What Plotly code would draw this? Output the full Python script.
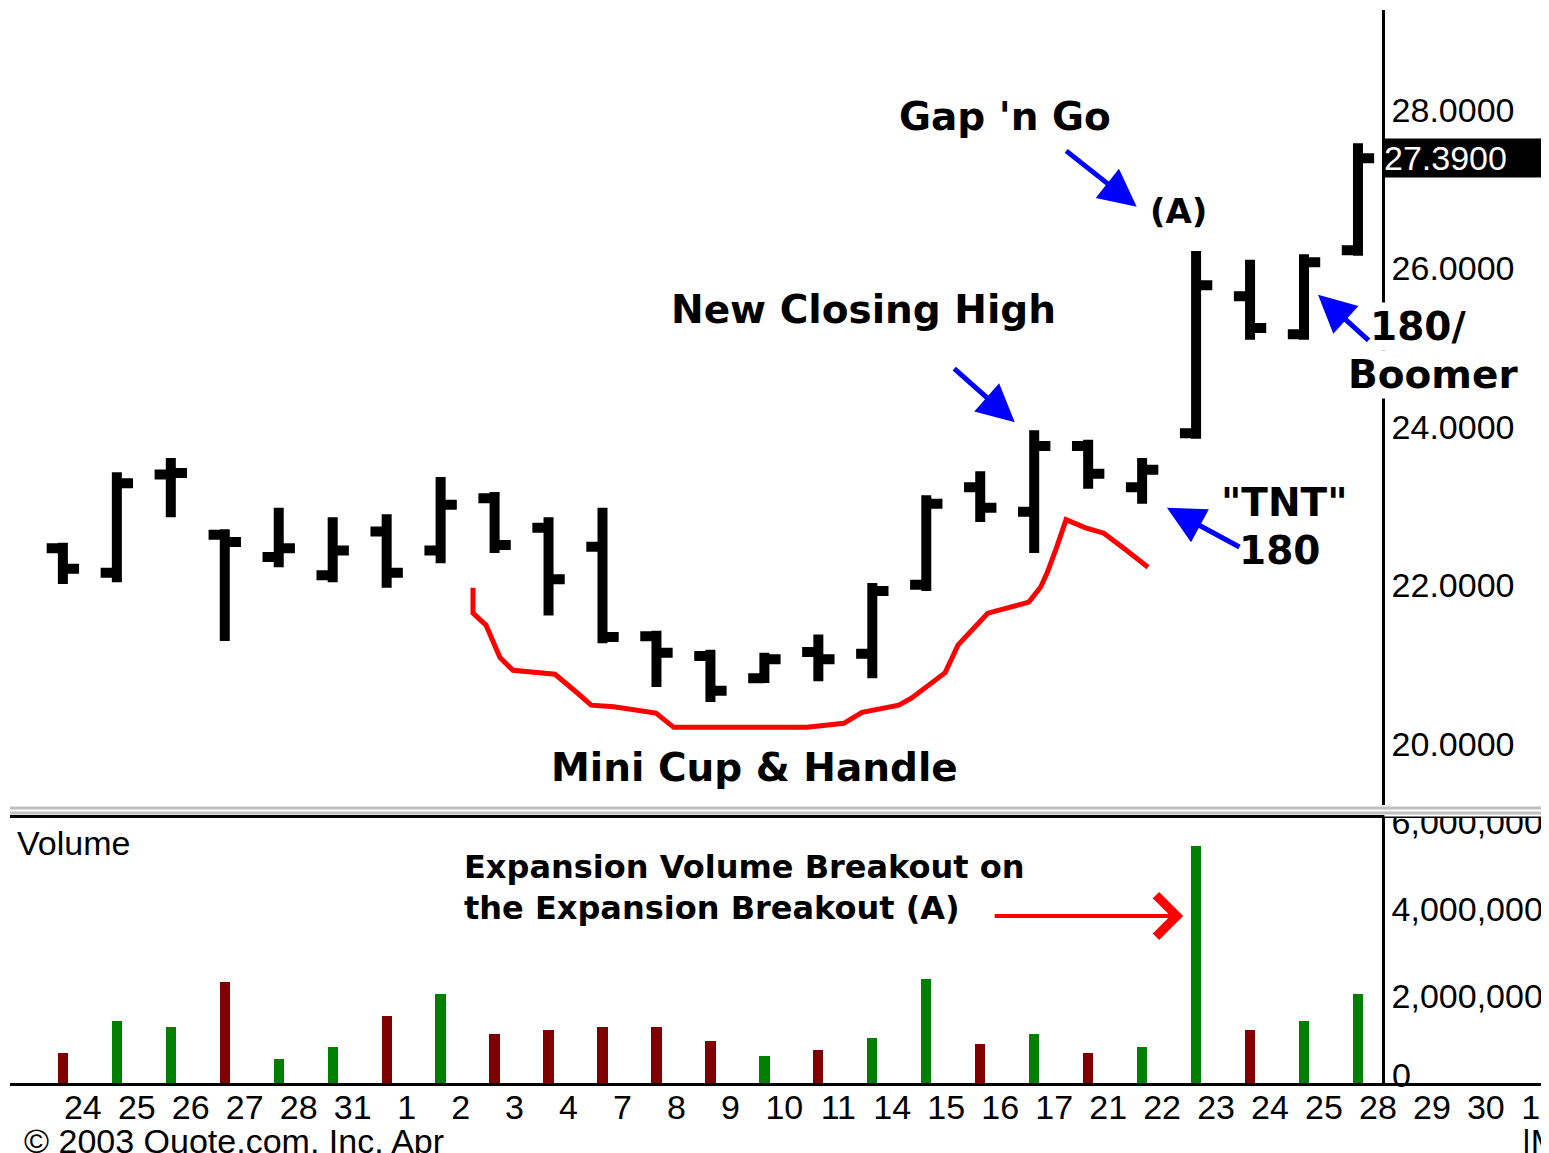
import plotly.graph_objects as go

# ---------------- data ----------------
dates = ["24", "25", "26", "27", "28", "31", "1", "2", "3", "4", "7", "8", "9",
         "10", "11", "14", "15", "16", "17", "21", "22", "23", "24", "25", "28"]
axis_labels = dates + ["29", "30", "1"]

open_ = [22.47, 22.16, 23.40, 22.64, 22.36, 22.13, 22.68, 22.44, 23.10, 22.73, 22.49, 21.36, 21.11,
         20.83, 21.16, 21.14, 22.01, 23.24, 22.93, 23.76, 23.24, 23.92, 25.65, 25.17, 26.23]
high = [22.54, 23.43, 23.61, 22.71, 22.98, 22.86, 22.90, 23.37, 23.18, 22.86, 22.98, 21.43, 21.19,
        21.15, 21.38, 22.03, 23.14, 23.44, 23.96, 23.84, 23.61, 26.22, 26.11, 26.18, 27.58]
low = [22.02, 22.04, 22.86, 21.30, 22.23, 22.04, 21.97, 22.28, 22.41, 21.62, 21.27, 20.72, 20.53,
       20.77, 20.79, 20.83, 21.93, 22.80, 22.41, 23.22, 23.03, 23.85, 25.10, 25.10, 26.16]
close = [22.21, 23.29, 23.42, 22.55, 22.47, 22.44, 22.16, 23.02, 22.51, 22.08, 21.35, 21.15, 20.67,
         21.07, 21.07, 21.93, 23.03, 22.98, 23.76, 23.41, 23.46, 25.79, 25.25, 26.08, 27.39]
volume = [690000, 1430000, 1290000, 2320000, 550000, 830000, 1540000, 2050000, 1130000, 1220000,
          1290000, 1290000, 970000, 620000, 760000, 1030000, 2390000, 900000, 1130000, 690000,
          830000, 5450000, 1220000, 1430000, 2050000]

# hand-drawn "cup" outline (bar index, price)
cup_x = [7.60, 7.60, 7.84, 8.10, 8.34, 9.12, 9.54, 9.79, 10.21, 10.99, 11.32, 13.79, 14.47, 14.81,
         15.49, 15.73, 16.35, 16.59, 17.14, 17.90, 18.12, 18.24, 18.42, 18.59, 18.94, 19.29, 19.66, 20.11]
cup_y = [21.97, 21.65, 21.50, 21.09, 20.93, 20.88, 20.64, 20.49, 20.47, 20.39, 20.21, 20.21, 20.26, 20.40,
         20.49, 20.58, 20.90, 21.25, 21.65, 21.79, 21.98, 22.16, 22.49, 22.83, 22.73, 22.66, 22.47, 22.23]

price_ticks = [20, 22, 24, 26, 28]
volume_ticks = [2000000, 4000000, 6000000]
last_price = close[-1]

# ---------------- styling ----------------
NARROW = "Liberation Sans, Arial, sans-serif"
BOLD = "DejaVu Sans, Verdana, sans-serif"
GREEN = "#008000"
MAROON = "#800000"
BLUE = "#0000ff"
NS = 34

x_idx = list(range(len(dates)))
vol_colors = [GREEN if c >= o else MAROON for o, c in zip(open_, close)]

XR = [-0.98, 27.54]

fig = go.Figure()
fig.add_trace(go.Ohlc(
    x=x_idx, open=open_, high=high, low=low, close=close,
    increasing=dict(line=dict(color="black", width=10)),
    decreasing=dict(line=dict(color="black", width=10)),
    tickwidth=0.3, xaxis="x", yaxis="y", showlegend=False, hoverinfo="skip"))
fig.add_trace(go.Scatter(
    x=cup_x, y=cup_y, mode="lines", line=dict(color="red", width=5),
    xaxis="x", yaxis="y", showlegend=False, hoverinfo="skip"))
fig.add_trace(go.Bar(
    x=x_idx, y=volume, marker=dict(color=vol_colors, line=dict(width=0)),
    width=0.19, xaxis="x2", yaxis="y2", showlegend=False, hoverinfo="skip"))

tickfont = dict(family=NARROW, size=NS, color="black")

# page body has an 8px margin: figure is sized/offset to compensate
fig.update_layout(
    width=1541, height=1145,
    margin=dict(l=2, r=0, t=2, b=70, autoexpand=False),
    paper_bgcolor="white", plot_bgcolor="white",
    xaxis=dict(domain=[0, 1], range=XR, anchor="y", showticklabels=False, automargin=False,
               showgrid=False, zeroline=False, showline=False,
               rangeslider=dict(visible=False)),
    yaxis=dict(domain=[0.2591, 1], range=[19.23, 29.262], anchor="free", position=0.892,
               side="right", showgrid=False, zeroline=False, showline=True, automargin=False,
               linecolor="black", linewidth=3, ticks="",
               tickvals=price_ticks, ticktext=[f"{v:.4f}" for v in price_ticks],
               tickfont=tickfont),
    xaxis2=dict(domain=[0, 1], range=XR, anchor="y2", showgrid=False, zeroline=False,
                showline=True, mirror=True, linecolor="black", linewidth=3, ticks="",
                automargin=False, ticklabelstandoff=-8, ticklabeloverflow="allow",
                tickvals=[min(i + 0.37, 27.2) for i in range(len(axis_labels))],
                ticktext=axis_labels, tickfont=tickfont),
    yaxis2=dict(domain=[0, 0.247], range=[0, 6090000], anchor="free", position=0.892,
                side="right", showgrid=False, zeroline=False, showline=True, automargin=False,
                linecolor="black", linewidth=3, ticks="",
                tickvals=volume_ticks, ticktext=[f"{v:,}" for v in volume_ticks],
                tickfont=tickfont),
    bargap=0,
)

# panel separator
fig.add_shape(type="rect", xref="paper", yref="paper", x0=0.893, x1=1.0, y0=0.2484, y1=0.2582,
              fillcolor="white", line=dict(width=0), layer="above")
for yy in [0.2563, 0.2516]:
    fig.add_shape(type="line", xref="paper", yref="paper", x0=0, x1=1, y0=yy, y1=yy,
                  line=dict(color="#c0c0c0", width=3), layer="above")

ann = []
def text(t, x, y, size=39, xref="x", yref="y", xanchor="center", family=BOLD, weight="bold",
         bg=None, color="black"):
    d = dict(text=t, x=x, y=y, xref=xref, yref=yref, xanchor=xanchor, yanchor="middle",
             showarrow=False, font=dict(family=family, size=size, color=color, weight=weight))
    if bg:
        d["bgcolor"] = bg
    ann.append(d)

def arrow(x, y, ax, ay, color=BLUE, head=2, xref="x", yref="y", width=5, size=1.5):
    ann.append(dict(text="", x=x, y=y, xref=xref, yref=yref, ax=ax, ay=ay, showarrow=True,
                    arrowhead=head, arrowsize=size, arrowwidth=width, arrowcolor=color,
                    standoff=0, startstandoff=0))

text("Gap 'n Go", 17.46, 27.92)
text("(A)", 20.68, 26.73, size=34)
text("New Closing High", 14.83, 25.48)
text("180/", 25.11, 25.27, bg="white")
text("Boomer", 25.39, 24.66, bg="white")
text("\"TNT\"", 22.63, 23.05)
text("180", 22.55, 22.44)
text("Mini Cup &amp; Handle", 12.81, 19.70)
text("Expansion Volume Breakout on", 7.39, 4970000, size=32, xref="x2", yref="y2", xanchor="left")
text("the Expansion Breakout (A)", 7.39, 4020000, size=32, xref="x2", yref="y2", xanchor="left")
text("Volume", -0.89, 5520000, size=NS, xref="x2", yref="y2", xanchor="left",
     family=NARROW, weight="normal")
text("0", 0.897, 0.0075, size=NS, xref="paper", yref="paper", xanchor="left",
     family=NARROW, weight="normal")
text("© 2003 Quote.com, Inc. Apr", 0.0078, -0.054, size=NS, xref="paper", yref="paper",
     xanchor="left", family=NARROW, weight="normal")
text("|M", 0.981, -0.054, size=NS, xref="paper", yref="paper", xanchor="left",
     family=NARROW, weight="normal")

ann.append(dict(text=f"{last_price:.4f}", x=0.892, y=last_price, xref="paper", yref="y",
                xanchor="left", yanchor="middle", showarrow=False, bgcolor="black",
                width=166, height=38, align="left", borderpad=0,
                font=dict(family=NARROW, size=NS, color="white")))

arrow(19.90, 26.78, -72, -57)
arrow(17.64, 24.06, -62, -55)
arrow(20.46, 22.98, 74, 40)
arrow(23.26, 25.67, 52, 47)
arrow(20.76, 3840000, -190, 0, color="red", head=4, xref="x2", yref="y2", width=4, size=2)

fig.update_layout(annotations=ann)
fig.write_html("out.html")
